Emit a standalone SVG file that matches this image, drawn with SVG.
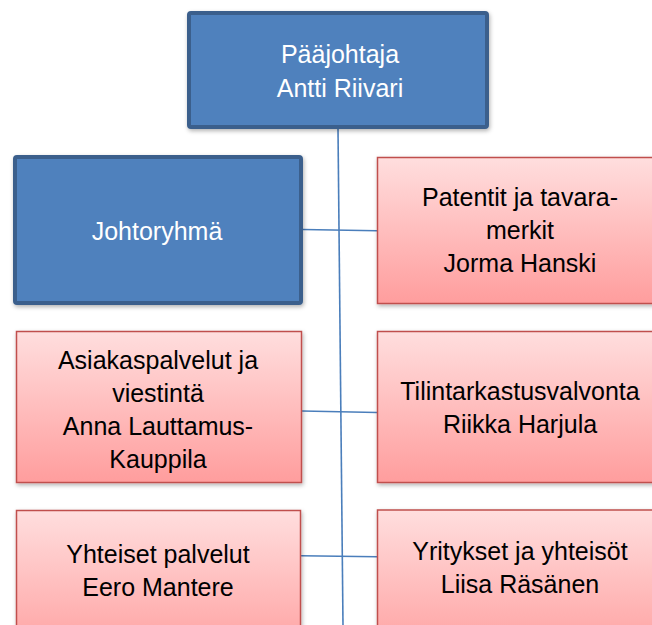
<svg xmlns="http://www.w3.org/2000/svg" width="652" height="625" viewBox="0 0 652 625">
<defs>
<linearGradient id="pink" x1="0" y1="0" x2="0" y2="1">
<stop offset="0" stop-color="#ffdede"/>
<stop offset="1" stop-color="#ff9d9d"/>
</linearGradient>
<filter id="sh" x="-10%" y="-10%" width="120%" height="130%">
<feDropShadow dx="1" dy="2" stdDeviation="2" flood-color="#000" flood-opacity="0.3"/>
</filter>
<style>
.blue{fill:#4f81bd;stroke:#3a5f8c;stroke-width:4;filter:url(#sh)}
.red{fill:url(#pink);stroke:#c0504d;stroke-width:1.5;filter:url(#sh)}
.conn{stroke:#4a7ebb;stroke-width:1.6;fill:none}
text{font-family:"Liberation Sans",Arial,sans-serif;font-size:25px;text-anchor:middle}
.w{fill:#ffffff}
.k{fill:#000000}
</style>
</defs>
<g id="connectors">
<line class="conn" x1="338" y1="129" x2="343" y2="625"/>
<line class="conn" x1="303" y1="229.5" x2="377" y2="230.8"/>
<line class="conn" x1="302" y1="411" x2="377" y2="412.5"/>
<line class="conn" x1="301" y1="555.7" x2="377" y2="556.7"/>
</g>
<g id="paajohtaja">
<rect class="blue" x="189" y="13" width="298" height="114" rx="2"/>
<text class="w" x="340" y="63">Pääjohtaja</text>
<text class="w" x="340" y="97">Antti Riivari</text>
</g>
<g id="johtoryhma">
<rect class="blue" x="15" y="157" width="286" height="146" rx="2"/>
<text class="w" x="157" y="240">Johtoryhmä</text>
</g>
<g id="patentit">
<rect class="red" x="377.5" y="157.5" width="287" height="146"/>
<text class="k" x="520" y="206">Patentit ja tavara-</text>
<text class="k" x="520" y="239">merkit</text>
<text class="k" x="520" y="272">Jorma Hanski</text>
</g>
<g id="asiakaspalvelut">
<rect class="red" x="16.5" y="331.5" width="285" height="151"/>
<text class="k" x="158" y="369">Asiakaspalvelut ja</text>
<text class="k" x="158" y="402">viestintä</text>
<text class="k" x="158" y="435">Anna Lauttamus-</text>
<text class="k" x="158" y="468">Kauppila</text>
</g>
<g id="tilintarkastusvalvonta">
<rect class="red" x="377.5" y="331.5" width="287" height="151"/>
<text class="k" x="520" y="400">Tilintarkastusvalvonta</text>
<text class="k" x="520" y="433">Riikka Harjula</text>
</g>
<g id="yhteiset">
<rect class="red" x="16.5" y="510.5" width="284" height="151"/>
<text class="k" x="158" y="563">Yhteiset palvelut</text>
<text class="k" x="158" y="596">Eero Mantere</text>
</g>
<g id="yritykset">
<rect class="red" x="377.5" y="510" width="287" height="151"/>
<text class="k" x="520" y="560">Yritykset ja yhteisöt</text>
<text class="k" x="520" y="593">Liisa Räsänen</text>
</g>
</svg>
